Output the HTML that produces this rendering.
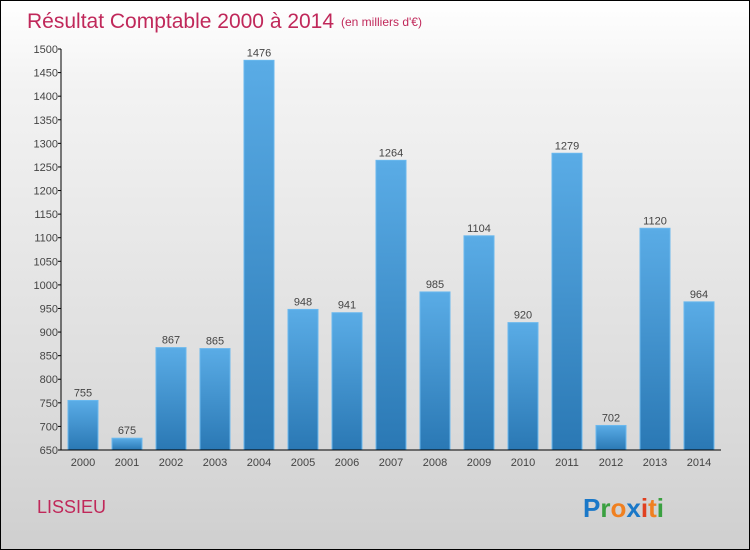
<!DOCTYPE html>
<html><head><meta charset="utf-8"><style>
body{margin:0}
#wrap{position:relative;width:748px;height:548px;border:1px solid #000;background:linear-gradient(#fff,#f3f3f3 15%,#d9d9d9 80%,#cfcfcf);font-family:"Liberation Sans",sans-serif;overflow:hidden}
</style></head><body>
<div id="wrap">
<svg width="748" height="548">
<defs><linearGradient id="bg" x1="0" y1="0" x2="0" y2="1"><stop offset="0" stop-color="#5aace6"/><stop offset="1" stop-color="#2a78b4"/></linearGradient></defs>
<text x="26" y="27" font-size="21" fill="#c0285a">Résultat Comptable 2000 à 2014</text>
<text x="340" y="25" font-size="12" fill="#c0285a">(en milliers d'€)</text>
<text x="36" y="512" font-size="18" fill="#c0285a">LISSIEU</text>
<g font-size="26" font-weight="bold">
<text x="582" y="516"><tspan fill="#1a78c8">P</tspan><tspan fill="#3aa040">r</tspan><tspan fill="#f08020">o</tspan><tspan fill="#1a78c8">x</tspan><tspan fill="#e04020">i</tspan><tspan fill="#f08020">t</tspan><tspan fill="#3aa040">i</tspan></text></g>
<g id="plot"></g>
</svg>
</div>
<script>
const categories=["2000","2001","2002","2003","2004","2005","2006","2007","2008","2009","2010","2011","2012","2013","2014"];
const values=[755,675,867,865,1476,948,941,1264,985,1104,920,1279,702,1120,964];
const yTicks=[650,700,750,800,850,900,950,1000,1050,1100,1150,1200,1250,1300,1350,1400,1450,1500];
const ns="http://www.w3.org/2000/svg";
const g=document.getElementById('plot');
const X0=60,X1=720,Y0=449,Y1=48,vmin=650,vmax=1500;
const y=v=>Y0-(v-vmin)/(vmax-vmin)*(Y0-Y1);
const step=(X1-X0)/categories.length;
const x=i=>X0+step*(i+0.5);
function mk(t,a){const e=document.createElementNS(ns,t);for(const k in a)e.setAttribute(k,a[k]);g.appendChild(e);return e;}
yTicks.forEach(v=>{
 const tk=mk('line',{x1:X0-3,x2:X0,y1:y(v),y2:y(v),stroke:'#000'});
 
 
 const t=mk('text',{x:X0-3,y:y(v)+4,'font-size':11,fill:'#444','text-anchor':'end'});
 t.textContent=v;
 
 
});
values.forEach((v,i)=>{
 const r=mk('rect',{x:x(i)-15,y:y(v),width:30,height:Y0-y(v),fill:'url(#bg)',stroke:'#6ab8ee','stroke-width':1});
 
 
 const t=mk('text',{x:x(i),y:y(v)-4,'font-size':11,fill:'#444','text-anchor':'middle'});
 t.textContent=v;
 
 
 const c=mk('text',{x:x(i),y:Y0+16,'font-size':11,fill:'#444','text-anchor':'middle'});
 c.textContent=categories[i];
 
 
});
const ya=mk('line',{x1:X0,x2:X0,y1:Y1,y2:Y0,stroke:'#000'});


const xa=mk('line',{x1:X0,x2:X1,y1:Y0,y2:Y0,stroke:'#000'});


</script>
</body></html>
